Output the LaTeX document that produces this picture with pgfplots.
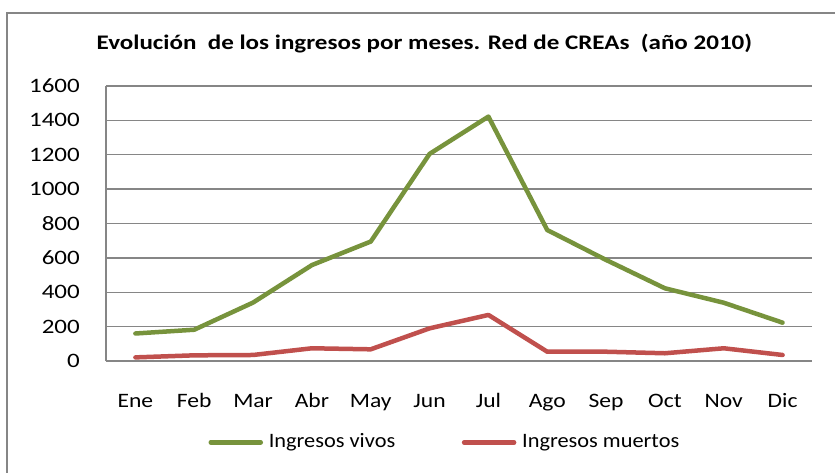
\documentclass[border=0pt]{standalone}
\usepackage{fontspec}
\setmainfont{Carlito}[FakeStretch=1.15]
\newfontfamily\legfont{Carlito}[FakeStretch=1.09]
\newfontfamily\tickfont{Carlito}[FakeStretch=1.22]
\newfontfamily\titlefont{Carlito}[FakeStretch=1.21]
\usepackage{pgfplots}
\pgfplotsset{compat=1.18}
\definecolor{vivos}{HTML}{77933C}
\definecolor{muertos}{HTML}{C0504D}
\definecolor{gridgray}{HTML}{868686}
\begin{document}
\fontsize{20.5bp}{24bp}\selectfont
\begin{tikzpicture}
\path[use as bounding box] (-106bp,-112bp) rectangle (729bp,361bp);
\draw[gridgray, line width=1.5bp] (-99bp,-120bp) -- (-99bp,348bp) -- (740bp,348bp);
\begin{axis}[
  scale only axis,
  width=706bp, height=275bp,
  xmin=-0.5, xmax=11.5,
  ymin=0, ymax=1600,
  xtick={0,...,11},
  xticklabels={Ene,Feb,Mar,Abr,May,Jun,Jul,Ago,Sep,Oct,Nov,Dic},
  ytick={0,200,...,1600},
  /pgf/number format/assume math mode=true,
  /pgf/number format/1000 sep={},
  axis x line=bottom, axis y line=left,
  axis line style={-, gridgray, line width=1.3bp},
  major tick length=0pt,
  ymajorgrids,
  major grid style={gridgray, line width=1.3bp},
  xticklabel style={anchor=base, inner sep=0pt, yshift=-46.7bp, font=\fontsize{20.5bp}{24bp}\selectfont},
  yticklabel style={anchor=east, inner sep=0pt, xshift=-26bp, font=\tickfont\fontsize{20.5bp}{24bp}\selectfont},
  title={\bfseries Evoluci\'on\ \ de los ingresos por meses. Red de CREAs\ \ (a\~no 2010)},
  title style={at={(0.451,1)}, anchor=base, inner sep=0pt, yshift=31bp, font=\titlefont\fontsize{20.7bp}{24bp}\selectfont},
  legend columns=2,
  legend style={at={(0.4786,-0.296)}, anchor=center, draw=none, fill=none,
    font=\legfont\fontsize{20.5bp}{24bp}\selectfont,
    nodes={inner sep=0pt},
    /tikz/every even column/.append style={column sep=66.6bp}},
  legend image code/.code={\draw[#1] (0bp,0bp) -- (50bp,0bp);},
  /tikz/every odd column/.append style={column sep=5.8bp},
  clip=false,
]
\addplot[vivos, line width=4.5bp, line join=round, line cap=round] coordinates {
(0,160) (1,182) (2,340) (3,558) (4,695) (5,1205) (6,1422) (7,762) (8,588) (9,423) (10,339) (11,223)};
\addlegendentry{Ingresos vivos}
\addplot[muertos, line width=4.5bp, line join=round, line cap=round] coordinates {
(0,21) (1,33) (2,35) (3,74) (4,68) (5,190) (6,268) (7,54) (8,54) (9,45) (10,74) (11,35)};
\addlegendentry{Ingresos muertos}
\end{axis}
\end{tikzpicture}
\end{document}
